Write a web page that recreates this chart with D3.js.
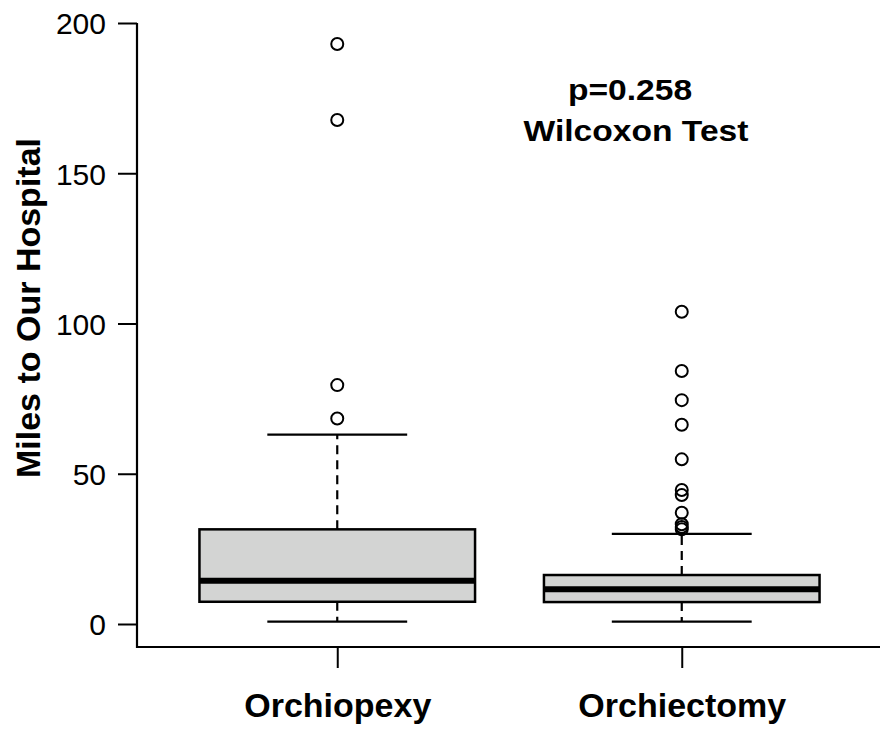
<!DOCTYPE html>
<html>
<head>
<meta charset="utf-8">
<script src="https://cdn.jsdelivr.net/npm/d3@7"></script>
<style>
  html, body { margin: 0; padding: 0; background: #fff; }
  svg { display: block; }
  text { font-family: "Liberation Sans", Arial, Helvetica, sans-serif; fill: #000; }
</style>
</head>
<body>
<svg id="chart" width="883" height="729"></svg>
<script>
// ---- data ----
const categories = ["Orchiopexy", "Orchiectomy"];
const whiskerLow = [0.8, 0.8];
const q1 = [7.4, 7.3];
const medians = [14.4, 11.6];
const q3 = [31.5, 16.3];
const whiskerHigh = [63.0, 30.0];
const outliersOrchiopexy = [68.4, 79.5, 167.7, 193.0];
const outliersOrchiectomy = [31.5, 32.3, 33.2, 37.0, 42.9, 44.6, 54.8, 66.3, 74.5, 84.2, 103.9];
const yTicks = [0, 50, 100, 150, 200];
const yLabel = "Miles to Our Hospital";
const annotationLines = ["p=0.258", "Wilcoxon Test"];

const outliers = [outliersOrchiopexy, outliersOrchiectomy];
const boxes = categories.map((c, i) => ({
  cat: c, lo: whiskerLow[i], q1: q1[i], med: medians[i], q3: q3[i], hi: whiskerHigh[i], out: outliers[i]
}));

const svg = d3.select("#chart");

const y = d3.scaleLinear().domain([0, 200]).range([624, 23]);
const x = d3.scalePoint().domain(categories).range([165, 854]).padding(0.5);
const step = x.step();
const boxW = step * 0.8;
const capW = step * 0.406;

const axisX = 137, axisY = 647, axisRight = 880;

// y axis
const yAxis = d3.axisLeft(y).tickValues(yTicks).tickSize(19).tickPadding(12);
const gy = svg.append("g").attr("transform", `translate(${axisX},0)`).call(yAxis);
gy.select(".domain").remove();
gy.selectAll(".tick line").attr("stroke", "#000").attr("stroke-width", 2);
gy.selectAll(".tick text")
  .attr("font-size", 30)
  .attr("font-family", "Liberation Sans, Arial, sans-serif")
  .attr("dy", "0.36em")
  .attr("fill", "#000");

svg.append("line")
  .attr("x1", axisX).attr("x2", axisX)
  .attr("y1", y(200)).attr("y2", axisY + 1)
  .attr("stroke", "#000").attr("stroke-width", 2.2);

// x axis
svg.append("line")
  .attr("x1", axisX - 1).attr("x2", axisRight)
  .attr("y1", axisY).attr("y2", axisY)
  .attr("stroke", "#000").attr("stroke-width", 2.2);

const xAxis = d3.axisBottom(x).tickSize(21).tickPadding(30);
const gx = svg.append("g").attr("transform", `translate(0,${axisY})`).call(xAxis);
gx.select(".domain").remove();
gx.selectAll(".tick line").attr("stroke", "#000").attr("stroke-width", 2);
gx.selectAll(".tick text")
  .attr("font-size", 34)
  .attr("font-weight", "bold")
  .attr("font-family", "Liberation Sans, Arial, sans-serif")
  .attr("fill", "#000")
  .attr("dy", null)
  .attr("y", 70);

// boxes
const g = svg.append("g");
const bg = g.selectAll("g.box").data(boxes).enter().append("g").attr("class", "box");

// whiskers (dashed)
bg.append("line")
  .attr("x1", d => x(d.cat)).attr("x2", d => x(d.cat))
  .attr("y1", d => y(d.q3)).attr("y2", d => y(d.hi))
  .attr("stroke", "#000").attr("stroke-width", 2.2).attr("stroke-dasharray", "9,6");
bg.append("line")
  .attr("x1", d => x(d.cat)).attr("x2", d => x(d.cat))
  .attr("y1", d => y(d.q1)).attr("y2", d => y(d.lo))
  .attr("stroke", "#000").attr("stroke-width", 2.2).attr("stroke-dasharray", "9,6");
// caps
bg.append("line")
  .attr("x1", d => x(d.cat) - capW / 2).attr("x2", d => x(d.cat) + capW / 2)
  .attr("y1", d => y(d.hi)).attr("y2", d => y(d.hi))
  .attr("stroke", "#000").attr("stroke-width", 2.2);
bg.append("line")
  .attr("x1", d => x(d.cat) - capW / 2).attr("x2", d => x(d.cat) + capW / 2)
  .attr("y1", d => y(d.lo)).attr("y2", d => y(d.lo))
  .attr("stroke", "#000").attr("stroke-width", 2.2);
// box
bg.append("rect")
  .attr("x", d => x(d.cat) - boxW / 2).attr("width", boxW)
  .attr("y", d => y(d.q3)).attr("height", d => y(d.q1) - y(d.q3))
  .attr("fill", "#d3d4d3").attr("stroke", "#000").attr("stroke-width", 2.5);
// median
bg.append("line")
  .attr("x1", d => x(d.cat) - boxW / 2).attr("x2", d => x(d.cat) + boxW / 2)
  .attr("y1", d => y(d.med)).attr("y2", d => y(d.med))
  .attr("stroke", "#000").attr("stroke-width", 6);
// outliers
bg.each(function(d) {
  d3.select(this).selectAll("circle").data(d.out).enter().append("circle")
    .attr("cx", x(d.cat)).attr("cy", v => y(v)).attr("r", 6)
    .attr("fill", "none").attr("stroke", "#000").attr("stroke-width", 2);
});

// y label
svg.append("text")
  .attr("transform", "translate(40,308) rotate(-90)")
  .attr("text-anchor", "middle")
  .attr("font-size", 34)
  .attr("font-weight", "bold")
  .text(yLabel);

// annotation
const ann = svg.append("g");
ann.append("text")
  .attr("transform", "translate(630,100) scale(1.12,1)")
  .attr("text-anchor", "middle").attr("font-size", 30).attr("font-weight", "bold")
  .text(annotationLines[0]);
ann.append("text")
  .attr("transform", "translate(636,141) scale(1.12,1)")
  .attr("text-anchor", "middle").attr("font-size", 30).attr("font-weight", "bold")
  .text(annotationLines[1]);
</script>
</body>
</html>
